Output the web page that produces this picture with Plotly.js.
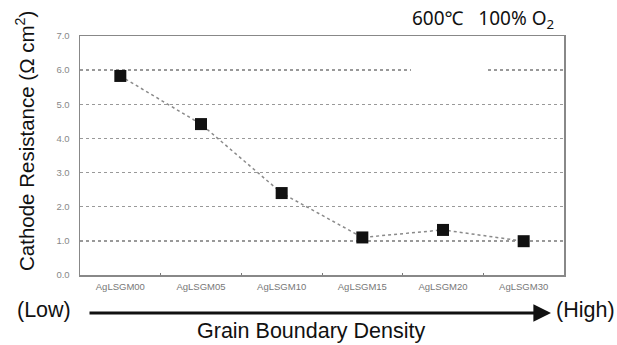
<!DOCTYPE html>
<html><head><meta charset="utf-8">
<script src="https://cdn.plot.ly/plotly-3.0.1.min.js"></script>
<style>body{margin:0;background:#fff}#c{width:617px;height:345px}</style>
</head><body><div id="c"></div>
<script>
const samples = ["AgLSGM00","AgLSGM05","AgLSGM10","AgLSGM15","AgLSGM20","AgLSGM30"];
const resistance = [5.83, 4.42, 2.40, 1.10, 1.32, 0.99];
const yTicks = [0,1,2,3,4,5,6,7];
const yTickText = ["0.0","1.0","2.0","3.0","4.0","5.0","6.0","7.0"];

const trace = {
  x: samples, y: resistance, type: "scatter", mode: "lines+markers",
  line: {color: "#8a8a8a", width: 1.5, dash: "3px,3px"},
  marker: {symbol: "square", size: 12, color: "#111"},
  showlegend: false, cliponaxis: false
};
const W = 484, H = 239; // plot size in px for paper conversion
const px = v => (v - 80) / W, py = v => (275 - v) / H;
const ann = (text, x, y, size, extra) => Object.assign({
  text, xref: "paper", yref: "paper", x: px(x), y: py(y), xanchor: "center", yanchor: "middle",
  showarrow: false, font: {size, color: "#111"}
}, extra || {});
const layout = {
  width: 617, height: 345,
  margin: {l: 80, r: 53, t: 36, b: 70},
  paper_bgcolor: "#fff", plot_bgcolor: "#fff",
  font: {family: "Liberation Sans, Arial, sans-serif", color: "#000"},
  xaxis: {
    type: "category", range: [-0.5, 5.5],
    showline: true, linecolor: "#888", linewidth: 1.5, mirror: true,
    showgrid: false, ticks: "inside", ticklen: 2, tickcolor: "#777", tickson: "boundaries",
    tickfont: {family: "Liberation Sans Narrow, Liberation Sans, Arial", size: 9.5, color: "#777"},
    ticklabelstandoff: 2, zeroline: false
  },
  yaxis: {
    range: [0, 7], tickvals: yTicks, ticktext: yTickText,
    showline: true, linecolor: "#888", linewidth: 1.5, mirror: true,
    showgrid: true, gridcolor: "#999", gridwidth: 1.3, griddash: "dot",
    ticks: "", zeroline: false, ticklabelstandoff: 7,
    tickfont: {family: "Liberation Sans Narrow, Liberation Sans, Arial", size: 9.5, color: "#888"}
  },
  shapes: [
    {type: "rect", xref: "paper", yref: "y", x0: px(411), x1: px(486), y0: 5.9, y1: 6.1,
     fillcolor: "#fff", line: {width: 0}, layer: "above"}
  ],
  annotations: [
    ann("Cathode Resistance (Ω cm<sup>2</sup>)", 25, 141, 20.5, {textangle: -90}),
    ann("(Low)", 44, 310, 21.5),
    ann("(High)", 585, 310, 21.5),
    ann("Grain Boundary Density", 311, 331, 21.5),
    ann("600℃   100% O<sub>2</sub>", 483, 19, 19, {font: {family: "Noto Sans, Open Sans, sans-serif", size: 19, color: "#111"}}),
    {text: "", xref: "paper", yref: "paper", x: px(551), y: py(313),
     showarrow: true, axref: "pixel", ayref: "pixel", ax: -463, ay: 0,
     arrowhead: 2, arrowsize: 1.1, arrowwidth: 3.2, arrowcolor: "#111"}
  ]
};
Plotly.newPlot("c", [trace], layout, {staticPlot: true, displayModeBar: false});
</script></body></html>
